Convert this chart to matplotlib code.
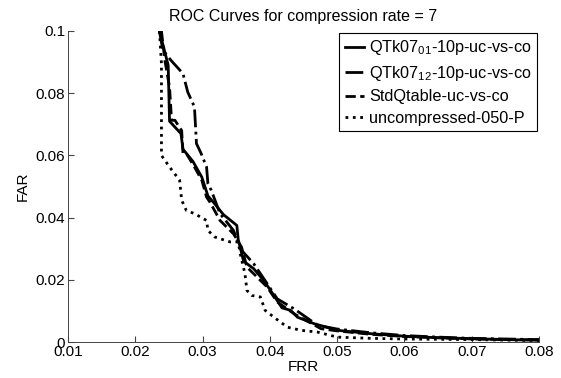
import matplotlib.pyplot as plt

plt.rcParams['font.family'] = ['Liberation Sans', 'DejaVu Sans']
plt.rcParams['mathtext.default'] = 'regular'
plt.rcParams['font.size'] = 11

# ROC curve points (FRR, FAR)
qt01_frr = [0.0236, 0.0249, 0.0251, 0.0268, 0.0271, 0.0286, 0.0299, 0.0308, 0.0316,
            0.0331, 0.0351, 0.0353, 0.0361, 0.0376, 0.0391, 0.0406, 0.0418, 0.0431,
            0.0441, 0.0466, 0.050, 0.055, 0.060, 0.065, 0.070, 0.075, 0.080]
qt01_far = [0.100, 0.089, 0.071, 0.067, 0.062, 0.058, 0.053, 0.047, 0.045,
            0.041, 0.0375, 0.033, 0.026, 0.0236, 0.0198, 0.015, 0.011, 0.0102,
            0.008, 0.0059, 0.0038, 0.0027, 0.0019, 0.0014, 0.0011, 0.0008, 0.0006]

qt12_frr = [0.0236, 0.0241, 0.0253, 0.0271, 0.0278, 0.0288, 0.0291, 0.0298, 0.0306,
            0.0308, 0.0313, 0.0326, 0.0346, 0.0358, 0.0376, 0.0396, 0.0411, 0.0436,
            0.0471, 0.050, 0.055, 0.060, 0.065, 0.070, 0.080]
qt12_far = [0.100, 0.0939, 0.0906, 0.0863, 0.0804, 0.0756, 0.0638, 0.0606, 0.0563,
            0.0509, 0.0488, 0.0413, 0.0359, 0.0295, 0.0252, 0.0188, 0.0139, 0.0107,
            0.0054, 0.0042, 0.003, 0.0021, 0.0016, 0.0012, 0.0008]

std_frr = [0.0239, 0.0244, 0.0251, 0.0254, 0.0259, 0.0269, 0.0271, 0.0276, 0.0288,
           0.0299, 0.0306, 0.0311, 0.0326, 0.0346, 0.0358, 0.0366, 0.0381, 0.0396,
           0.0411, 0.0436, 0.0476, 0.050, 0.055, 0.060, 0.070, 0.080]
std_far = [0.100, 0.0906, 0.082, 0.0713, 0.0713, 0.068, 0.0606, 0.0606, 0.0563,
           0.052, 0.0466, 0.045, 0.0391, 0.0348, 0.0305, 0.0241, 0.0209, 0.0177,
           0.0129, 0.0091, 0.0043, 0.0036, 0.0025, 0.0018, 0.001, 0.0007]

unc_frr = [0.0236, 0.0239, 0.0239, 0.0251, 0.0266, 0.0269, 0.0276, 0.0288, 0.0306,
           0.0308, 0.0318, 0.0341, 0.0353, 0.0356, 0.0363, 0.0366, 0.0373, 0.0386,
           0.0393, 0.0406, 0.0426, 0.0446, 0.0471, 0.050, 0.055, 0.060, 0.070, 0.080]
unc_far = [0.100, 0.0895, 0.060, 0.0563, 0.052, 0.0456, 0.0423, 0.0413, 0.0391,
           0.0359, 0.0338, 0.0322, 0.0322, 0.0284, 0.022, 0.0166, 0.015, 0.0145,
           0.0102, 0.008, 0.0048, 0.0038, 0.0032, 0.0016, 0.0012, 0.001, 0.0008, 0.0005]

labels = ['QTk07$_{01}$-10p-uc-vs-co', 'QTk07$_{12}$-10p-uc-vs-co',
          'StdQtable-uc-vs-co', 'uncompressed-050-P']
xticks = [0.01, 0.02, 0.03, 0.04, 0.05, 0.06, 0.07, 0.08]
yticks = [0, 0.02, 0.04, 0.06, 0.08, 0.1]

fig = plt.figure(figsize=(5.61, 3.78), dpi=100)
ax = fig.add_axes([0.121, 0.095, 0.840, 0.823])

ax.plot(qt01_frr, qt01_far, color='black', lw=2, linestyle='-', label=labels[0])
ax.plot(qt12_frr, qt12_far, color='black', lw=2, linestyle='-.', label=labels[1])
ax.plot(std_frr, std_far, color='black', lw=2, linestyle='--', label=labels[2])
ax.plot(unc_frr, unc_far, color='black', lw=2, linestyle=':', label=labels[3])

ax.set_xlim(0.01, 0.08)
ax.set_ylim(0, 0.1)
ax.set_xticks(xticks)
ax.set_xticklabels(['%g' % t for t in xticks])
ax.set_yticks(yticks)
ax.set_yticklabels(['%g' % t for t in yticks])
ax.tick_params(direction='in', length=4, pad=2, color='#444444')
ax.spines['top'].set_visible(False)
ax.spines['right'].set_visible(False)
for side in ['left', 'bottom']:
    ax.spines[side].set_color('#444444')
    ax.spines[side].set_linewidth(0.7)

ax.set_title('ROC Curves for compression rate = 7', fontsize=11.5, pad=7)
ax.set_xlabel('FRR', labelpad=1)
ax.set_ylabel('FAR', labelpad=4)

leg = ax.legend(loc='upper right', fancybox=False, edgecolor='black', framealpha=1,
                fontsize=11.7, handlelength=1.2, handletextpad=0.3, labelspacing=0.4,
                borderaxespad=0.1, borderpad=0.35)
leg.get_frame().set_linewidth(0.8)

fig.savefig('out.png', dpi=100)
